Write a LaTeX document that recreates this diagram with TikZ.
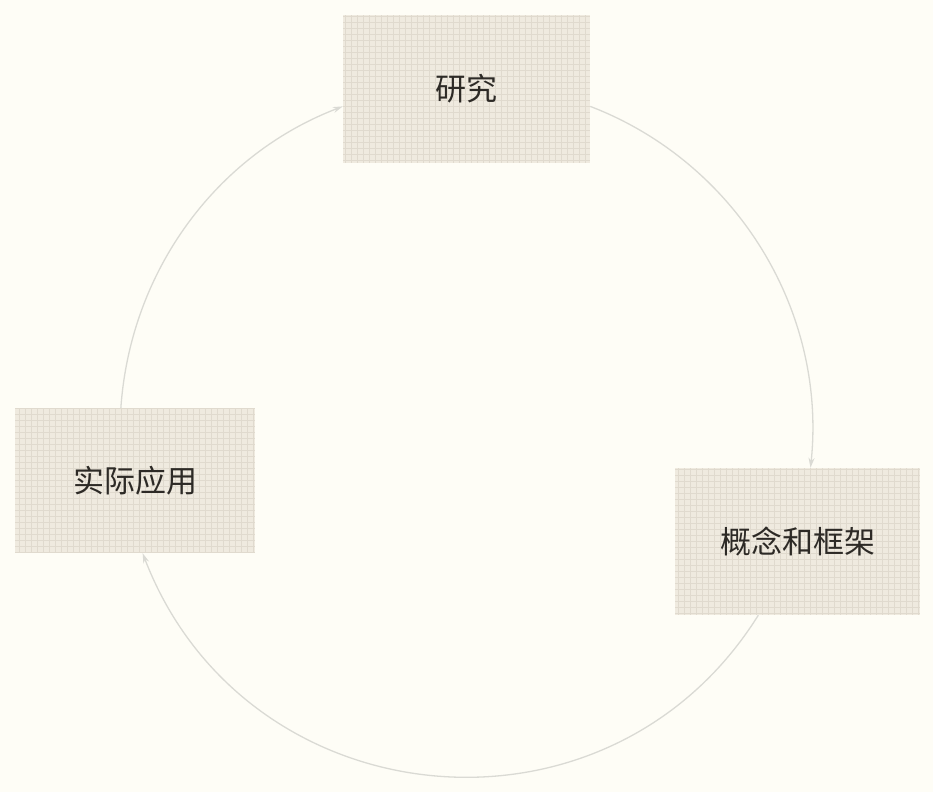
\documentclass[tikz,border=0pt]{standalone}
\usepackage{fontspec}
\newfontfamily\cjk{Noto Sans CJK SC}
\usetikzlibrary{arrows.meta, backgrounds}

\begin{document}
\begin{tikzpicture}[x=1pt, y=1pt,
    stagebox/.style={minimum width=245pt, minimum height=147pt, inner sep=0pt,
        fill=boxbg, text=txtcol, font=\cjk\fontsize{31}{36}\selectfont,
        path picture={\draw[gridline, line width=0.9pt, step=6pt]
            (path picture bounding box.south west) grid (path picture bounding box.north east);}},
    cycarrow/.style={-{Stealth[length=10pt, width=6pt]}, line width=1.3pt, draw=arccol}]
    % colours
    \definecolor{pagebg}{RGB}{254, 253, 246}
    \definecolor{boxbg}{RGB}{239, 234, 223}
    \definecolor{gridline}{RGB}{224, 218, 206}
    \definecolor{arccol}{RGB}{218, 218, 212}
    \definecolor{txtcol}{RGB}{45, 42, 38}

    \useasboundingbox (0, 0) rectangle (933, 792);

    % 1. the three stages
    \node[stagebox, minimum width=247pt, minimum height=148pt] (yanjiu) at (466.5, 703) {研究};
    \node[stagebox, minimum width=240pt, minimum height=145pt] (shiying) at (135, 311.5) {实际应用};
    \node[stagebox, minimum width=245pt, minimum height=147pt] (gainian) at (797.5, 250.5) {概念和框架};

    % 2. page and cycle arcs behind the boxes
    \begin{scope}[on background layer]
        \fill[pagebg] (0, 0) rectangle (933, 792);
        \draw[cycarrow] (yanjiu.-8) to[out=-21, in=84, looseness=0.95] (gainian.80);
        \draw[cycarrow] (gainian.-118) to[out=-122, in=-69, looseness=1.18] (shiying.-84);
        \draw[cycarrow] (shiying.101) to[out=86, in=201, looseness=0.93] (yanjiu.188);
    \end{scope}
\end{tikzpicture}
\end{document}
